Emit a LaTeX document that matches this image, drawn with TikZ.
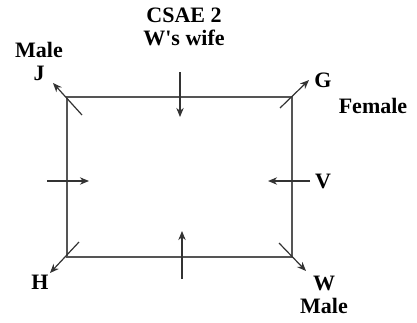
\documentclass[tikz,border=0pt]{standalone}
\usepackage{fontspec}
\setmainfont{Liberation Serif}
\usetikzlibrary{arrows.meta,positioning}
\definecolor{Edge}{HTML}{555555}
\tikzset{
  lbl/.style={font=\fontsize{22}{23}\selectfont\bfseries,align=center,inner sep=0pt},
  side/.style={draw=Edge,line width=1.3pt},
  force/.style={-{Stealth[length=3.2mm,width=2.6mm]},draw=black!80,line width=1.2pt},
}
\begin{document}
\begin{tikzpicture}[x=1pt,y=-1pt]
        \useasboundingbox (0,0) rectangle (417,322);
        % corners of the box
        \coordinate (tl) at (67,97);
        \coordinate (tr) at (292,97);
        \coordinate (br) at (292,257);
        \coordinate (bl) at (67,257);
        \draw[side] (tl) -- (tr) -- (br) -- (bl) -- cycle;
        % texts
        \node[lbl] (csae) at (184,27) {CSAE 2\\W\textquotesingle s wife};
        \node[lbl] (j) at (39,61) {Male\\J};
        \node[lbl] (g) at (323,80) {G};
        \node[lbl] (fem) at (373,106) {Female};
        \node[lbl] (v) at (323,181) {V};
        \node[lbl] (h) at (40,282) {H};
        \node[lbl] (w) at (324,295) {W\\Male};
        % ends of the arrows
        \coordinate (jA) at (82,115);  \coordinate (jB) at (53,83);
        \coordinate (gA) at (280,108); \coordinate (gB) at (309,80);
        \coordinate (hA) at (79,242);  \coordinate (hB) at (50,273);
        \coordinate (wA) at (279,243); \coordinate (wB) at (306,271);
        \coordinate (tA) at (180,72);  \coordinate (tB) at (180,117);
        \coordinate (bA) at (182,279); \coordinate (bB) at (182,231);
        \coordinate (lA) at (47,181);  \coordinate (lB) at (89,181);
        \coordinate (rA) at (310,181); \coordinate (rB) at (268,181);
        \foreach \a/\b in {jA/jB,gA/gB,hA/hB,wA/wB,tA/tB,bA/bB,lA/lB,rA/rB}
          \draw[force] (\a) -- (\b);
      \end{tikzpicture}
\end{document}
